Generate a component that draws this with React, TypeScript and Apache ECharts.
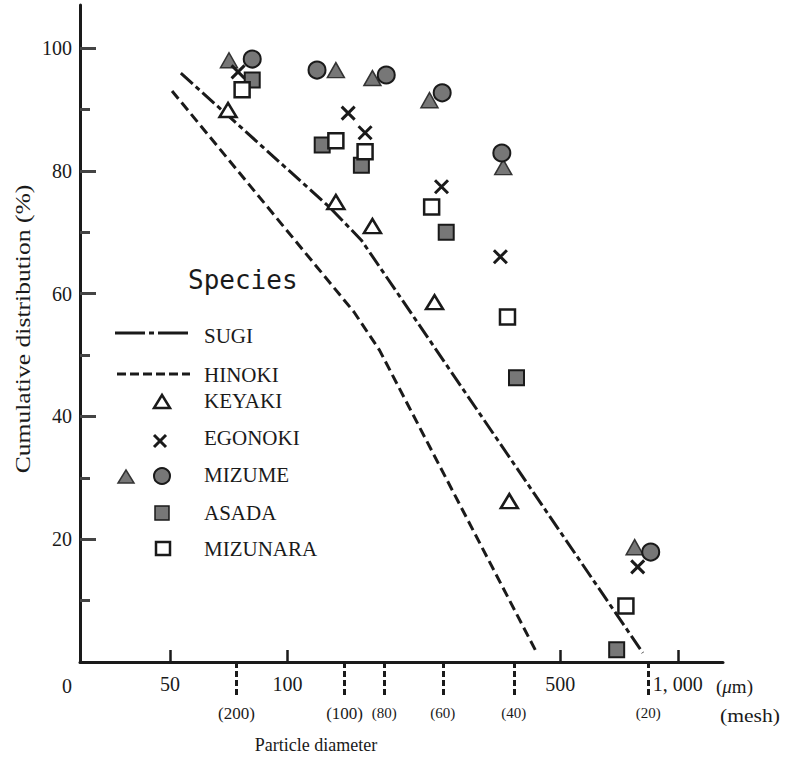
import React, { useEffect, useRef } from "react";
import * as echarts from "echarts";

// ---- data (particle diameter in µm, cumulative distribution in %) ----
const sugi: number[][] = [[53.3, 95.9], [128, 74.1], [154.6, 68.7], [813, 1.5]];
const hinoki: number[][] = [[50.6, 93.0], [148, 57.0], [172, 50.8], [435, 1.5]];
const keyaki: number[][] = [[70.4, 89.9], [133, 74.9], [165, 71.0], [238, 58.6], [370, 26.2]];
const egonoki: number[][] = [[74.7, 96.1], [143, 89.4], [158, 86.2], [248, 77.4], [351, 66.0], [789, 15.5]];
const mizumeTri: number[][] = [[70.8, 98.0], [133, 96.4], [165, 95.1], [231, 91.5], [357, 80.6], [775, 18.7]];
const mizumeCir: number[][] = [[81.2, 98.2], [119, 96.4], [179, 95.6], [249, 92.7], [354, 82.9], [852, 17.9]];
const asada: number[][] = [[81.2, 94.8], [122.7, 84.2], [154.6, 80.9], [255, 70.0], [386, 46.3], [697, 2.0]];
const mizunara: number[][] = [[76.5, 93.2], [133, 84.9], [158, 83.1], [234, 74.1], [366, 56.2], [736, 9.1]];

const xTickValues = [50, 100, 500, 1000];
const xTickLabels = ["50", "100", "500", "1, 000"];
const meshSizes = [74, 140, 177, 250, 380, 840];
const meshLabels = ["(200)", "(100)", "(80)", "(60)", "(40)", "(20)"];
const yMajorTicks = [20, 40, 60, 80, 100];
const yMinorTicks = [10, 30, 50, 70, 90];
const X_MIN_UM = 29.4;
const X_MAX_UM = 1305;
const Y_MAX = 107;

const lg = (v: number) => Math.log10(v);
const toXY = (arr: number[][]) => arr.map(([d, v]) => [lg(d), v]);
const findIdx = (vals: number[], v: number) => vals.findIndex((t) => Math.abs(lg(t) - v) < 1e-6);

const INK = "#1a1a1a";
const GREY = "#777";
const SERIF = "'Liberation Serif', 'Times New Roman', serif";

export default function App() {
  const ref = useRef<HTMLDivElement>(null);
  useEffect(() => {
    if (!ref.current) return;
    const chart = echarts.init(ref.current, null, { renderer: "svg" });
    const xMin = lg(X_MIN_UM);
    const xMax = lg(X_MAX_UM);
    const legendText = (text: string, y: number) => ({
      type: "text",
      x: 204,
      y,
      style: { text, fill: INK, font: `21px ${SERIF}`, verticalAlign: "middle", align: "left" },
    });
    const option: any = {
      animation: false,
      backgroundColor: "#fff",
      grid: { left: 80, right: 68, top: 5, bottom: 97, outerBoundsMode: "none", containLabel: false },
      xAxis: [
        {
          type: "value",
          min: xMin,
          max: xMax,
          position: "bottom",
          axisLine: { show: true, onZero: false, lineStyle: { color: INK, width: 3 } },
          axisTick: {
            show: true,
            inside: true,
            length: 12,
            customValues: xTickValues.map(lg),
            lineStyle: { color: INK, width: 2.5 },
          },
          axisLabel: {
            show: true,
            customValues: xTickValues.map(lg),
            margin: 12,
            fontSize: 20,
            fontFamily: SERIF,
            color: INK,
            formatter: (v: number) => {
              const i = findIdx(xTickValues, v);
              return i >= 0 ? xTickLabels[i] : "";
            },
          },
          splitLine: { show: false },
        },
        {
          type: "value",
          min: xMin,
          max: xMax,
          position: "bottom",
          axisLine: { show: false, onZero: false },
          axisTick: {
            show: true,
            inside: false,
            length: 33,
            customValues: meshSizes.map(lg),
            lineStyle: { color: INK, width: 3, type: [6, 3] },
          },
          axisLabel: {
            show: true,
            customValues: meshSizes.map(lg),
            margin: 43,
            color: INK,
            fontFamily: SERIF,
            fontSize: 17,
            formatter: (v: number) => {
              const i = findIdx(meshSizes, v);
              if (i < 0) return "";
              const t = meshLabels[i];
              return t.length > 4 ? `{n|${t}}` : `{s|${t}}`;
            },
            rich: {
              n: { fontSize: 17, fontFamily: SERIF, color: INK },
              s: { fontSize: 15, fontFamily: SERIF, color: INK },
            },
          },
          splitLine: { show: false },
        },
      ],
      yAxis: [
        {
          type: "value",
          min: 0,
          max: Y_MAX,
          position: "left",
          axisLine: { show: true, onZero: false, lineStyle: { color: INK, width: 3 } },
          axisTick: {
            show: true,
            inside: true,
            length: 16,
            customValues: yMajorTicks,
            lineStyle: { color: "#444", width: 3 },
          },
          axisLabel: {
            show: true,
            customValues: yMajorTicks,
            margin: 8,
            fontSize: 20,
            fontFamily: SERIF,
            color: INK,
          },
          splitLine: { show: false },
        },
        {
          type: "value",
          min: 0,
          max: Y_MAX,
          position: "left",
          axisLine: { show: false, onZero: false },
          axisTick: {
            show: true,
            inside: true,
            length: 10,
            customValues: yMinorTicks,
            lineStyle: { color: "#444", width: 3 },
          },
          axisLabel: { show: false },
          splitLine: { show: false },
        },
      ],
      series: [
        {
          name: "SUGI",
          type: "line",
          data: toXY(sugi),
          symbol: "none",
          lineStyle: { color: INK, width: 3, type: [16, 4, 5, 4] },
          z: 2,
        },
        {
          name: "HINOKI",
          type: "line",
          data: toXY(hinoki),
          symbol: "none",
          lineStyle: { color: INK, width: 3, type: [10, 5] },
          z: 2,
        },
        {
          name: "ASADA",
          type: "scatter",
          data: toXY(asada),
          symbol: "rect",
          symbolSize: 15,
          itemStyle: { color: GREY, borderColor: INK, borderWidth: 2, opacity: 1 },
          z: 3,
        },
        {
          name: "MIZUNARA",
          type: "scatter",
          data: toXY(mizunara),
          symbol: "rect",
          symbolSize: 15,
          itemStyle: { color: "#fff", borderColor: INK, borderWidth: 2.5, opacity: 1 },
          z: 3,
        },
        {
          name: "KEYAKI",
          type: "scatter",
          data: toXY(keyaki),
          symbol: "triangle",
          symbolSize: [17, 14],
          itemStyle: { color: "#fff", borderColor: INK, borderWidth: 2.5, opacity: 1 },
          z: 4,
        },
        {
          name: "MIZUME triangle",
          type: "scatter",
          data: toXY(mizumeTri),
          symbol: "triangle",
          symbolSize: [17, 15],
          itemStyle: { color: GREY, borderColor: "#333", borderWidth: 1.5, opacity: 1 },
          z: 4,
        },
        {
          name: "MIZUME circle",
          type: "scatter",
          data: toXY(mizumeCir),
          symbol: "circle",
          symbolSize: 17,
          itemStyle: { color: GREY, borderColor: INK, borderWidth: 2, opacity: 1 },
          z: 4,
        },
        {
          name: "EGONOKI",
          type: "scatter",
          data: toXY(egonoki),
          symbol: "path://M0 0L10 10M10 0L0 10",
          symbolSize: 13,
          itemStyle: { color: "none", borderColor: INK, borderWidth: 3, opacity: 1 },
          z: 5,
        },
      ],
      graphic: [
        // axis captions
        {
          type: "text",
          x: 23,
          y: 329,
          rotation: Math.PI / 2,
          scaleX: 1.28,
          style: {
            text: "Cumulative distribution (%)",
            fill: INK,
            font: `20px ${SERIF}`,
            align: "center",
            verticalAlign: "middle",
          },
        },
        {
          type: "text",
          x: 316,
          y: 745,
          style: { text: "Particle diameter", fill: INK, font: `18px ${SERIF}`, align: "center", verticalAlign: "middle" },
        },
        {
          type: "text",
          x: 67,
          y: 686,
          style: { text: "0", fill: INK, font: `20px ${SERIF}`, align: "center", verticalAlign: "middle" },
        },
        {
          type: "text",
          x: 716,
          y: 686,
          style: {
            text: "{a|(}{b|μ}{a|m)}",
            rich: {
              a: { font: `19px ${SERIF}`, fill: INK },
              b: { font: `italic 19px ${SERIF}`, fill: INK },
            },
            verticalAlign: "middle",
            align: "left",
          },
        },
        {
          type: "text",
          x: 720,
          y: 716,
          scaleX: 1.2,
          style: { text: "(mesh)", fill: INK, font: `18px ${SERIF}`, align: "left", verticalAlign: "middle" },
        },
        // legend
        {
          type: "text",
          x: 188,
          y: 280,
          style: {
            text: "Species",
            fill: INK,
            font: "26px 'DejaVu Sans Mono', monospace",
            align: "left",
            verticalAlign: "middle",
          },
        },
        {
          type: "line",
          shape: { x1: 115, y1: 333, x2: 188, y2: 333 },
          style: { stroke: INK, lineWidth: 3, lineDash: [30, 4, 5, 4] },
        },
        legendText("SUGI", 336),
        {
          type: "line",
          shape: { x1: 117, y1: 374, x2: 190, y2: 374 },
          style: { stroke: INK, lineWidth: 3, lineDash: [9, 4] },
        },
        legendText("HINOKI", 375),
        {
          type: "polygon",
          shape: { points: [[154, 408], [170, 408], [162, 395]] },
          style: { fill: "#fff", stroke: INK, lineWidth: 2.5 },
        },
        legendText("KEYAKI", 401),
        {
          type: "line",
          shape: { x1: 154, y1: 435, x2: 166, y2: 447 },
          style: { stroke: INK, lineWidth: 3 },
        },
        {
          type: "line",
          shape: { x1: 166, y1: 435, x2: 154, y2: 447 },
          style: { stroke: INK, lineWidth: 3 },
        },
        legendText("EGONOKI", 438),
        {
          type: "polygon",
          shape: { points: [[118, 483], [134, 483], [126, 470]] },
          style: { fill: GREY, stroke: "#333", lineWidth: 1.5 },
        },
        {
          type: "circle",
          shape: { cx: 162, cy: 476, r: 8 },
          style: { fill: GREY, stroke: INK, lineWidth: 2 },
        },
        legendText("MIZUME", 475),
        {
          type: "rect",
          shape: { x: 155, y: 506, width: 14, height: 14 },
          style: { fill: GREY, stroke: INK, lineWidth: 1.5 },
        },
        legendText("ASADA", 513),
        {
          type: "rect",
          shape: { x: 156, y: 542, width: 14, height: 13 },
          style: { fill: "#fff", stroke: INK, lineWidth: 2.5 },
        },
        legendText("MIZUNARA", 549),
      ],
    };
    chart.setOption(option);
    return () => chart.dispose();
  }, []);
  return (
    <div
      ref={ref}
      style={{ position: "fixed", left: 0, top: 0, width: 791, height: 759, background: "#fff" }}
    />
  );
}
